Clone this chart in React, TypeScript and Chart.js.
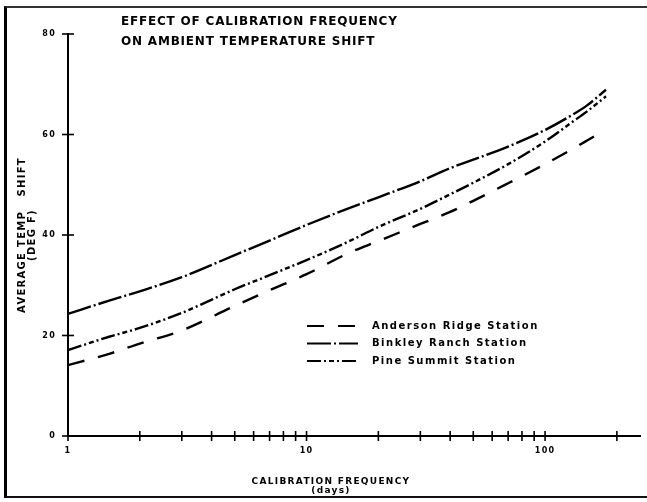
import React, { useEffect, useRef } from "react";
import { Chart, registerables } from "chart.js";

Chart.register(...registerables);

const DAYS = [1, 1.5, 2, 3, 5, 7, 10, 15, 20, 30, 40, 50, 70, 100, 130, 150, 180];
const ANDERSON = [14.1, 16.4, 18.4, 21.0, 25.9, 29.0, 32.2, 36.4, 38.8, 42.2, 44.6, 46.8, 50.3, 54.1, 57.1, 58.8, 61.0];
const BINKLEY = [24.3, 27.0, 28.8, 31.6, 36.0, 38.9, 42.0, 45.3, 47.5, 50.7, 53.3, 55.0, 57.6, 60.9, 63.9, 65.8, 68.9];
const PINE = [17.1, 19.8, 21.5, 24.5, 29.2, 32.0, 35.0, 38.7, 41.6, 45.2, 48.1, 50.4, 54.1, 58.6, 62.5, 64.6, 67.6];

const SERIES_NAMES = ["Anderson Ridge Station", "Binkley Ranch Station", "Pine Summit Station"];
const SERIES_DASH = [
  [17, 14],
  [24, 3, 2, 3],
  [14, 3, 2, 3, 5, 3, 2, 3],
];

const TITLE_LINES = ["EFFECT OF CALIBRATION FREQUENCY", "ON AMBIENT TEMPERATURE SHIFT"];
const X_TITLE = ["CALIBRATION FREQUENCY", "(days)"];
const Y_TITLE = ["AVERAGE TEMP   SHIFT", "(DEG F)"];
const X_TICKS = [1, 2, 3, 4, 5, 6, 7, 8, 9, 10, 20, 30, 40, 50, 60, 70, 80, 90, 100, 200];
const X_LABELED = [1, 10, 100];
const Y_TICKS = [0, 20, 40, 60, 80];

const FONT = '"DejaVu Sans"';

const decor = {
  id: "decor",
  beforeDraw(chart: any) {
    chart.ctx.letterSpacing = "1.3px";
  },
  afterDraw(chart: any) {
    const ctx = chart.ctx;
    const xs = chart.scales.x;
    const ys = chart.scales.y;
    ctx.save();
    ctx.strokeStyle = "#000";
    ctx.lineWidth = 1.6;
    ctx.setLineDash([]);
    const y0 = ys.getPixelForValue(0);
    X_TICKS.forEach((v) => {
      const px = xs.getPixelForValue(v);
      ctx.beginPath();
      ctx.moveTo(px, y0 - 5);
      ctx.lineTo(px, y0 + 5);
      ctx.stroke();
    });
    const x0 = xs.getPixelForValue(1);
    Y_TICKS.forEach((v) => {
      const py = ys.getPixelForValue(v);
      ctx.beginPath();
      ctx.moveTo(x0 - 6, py);
      ctx.lineTo(x0 + 6, py);
      ctx.stroke();
    });

    ctx.fillStyle = "#000";
    ctx.textBaseline = "middle";
    // title
    ctx.font = `bold 12px ${FONT}`;
    ctx.letterSpacing = "0.8px";
    ctx.textAlign = "left";
    ctx.fillText(TITLE_LINES[0], 121, 22);
    ctx.fillText(TITLE_LINES[1], 121, 42);

    // x axis title
    ctx.font = `bold 9px ${FONT}`;
    ctx.letterSpacing = "1.3px";
    ctx.textAlign = "center";
    ctx.fillText(X_TITLE[0], 331, 482);
    ctx.fillText(X_TITLE[1], 331, 491);

    // legend
    ctx.font = `bold 10px ${FONT}`;
    ctx.letterSpacing = "1.5px";
    ctx.textAlign = "left";
    const rows = [326, 343.5, 361];
    chart.data.datasets.forEach((ds: any, i: number) => {
      const ry = rows[i];
      ctx.save();
      ctx.lineWidth = 2.2;
      ctx.setLineDash(ds.borderDash || []);
      ctx.beginPath();
      ctx.moveTo(307, ry);
      ctx.lineTo(358, ry);
      ctx.stroke();
      ctx.restore();
      ctx.fillText(ds.label, 372, ry);
    });
    ctx.restore();
    chart.ctx.letterSpacing = "0px";
  },
};

export default function App() {
  const ref = useRef<HTMLCanvasElement | null>(null);

  useEffect(() => {
    document.body.style.margin = "0";
    const canvas = ref.current;
    if (!canvas) return;
    const seriesValues = [ANDERSON, BINKLEY, PINE];
    const chart = new Chart(canvas, {
      type: "line",
      data: {
        datasets: seriesValues.map((vals, i) => ({
          label: SERIES_NAMES[i],
          data: DAYS.map((d, j) => ({ x: d, y: vals[j] })),
          borderColor: "#000",
          borderWidth: 2.4,
          borderDash: SERIES_DASH[i],
          pointRadius: 0,
          fill: false,
          cubicInterpolationMode: "monotone",
          clip: false,
        })),
      },
      options: {
        animation: false,
        responsive: false,
        devicePixelRatio: 1,
        layout: { padding: { left: 0, top: 34, right: 7, bottom: 0 } },
        plugins: {
          legend: { display: false },
          title: { display: false },
          tooltip: { enabled: false },
        },
        scales: {
          x: {
            type: "logarithmic",
            min: 1,
            max: 250,
            grid: { display: false, drawTicks: false },
            border: { display: true, color: "#000", width: 2 },
            afterBuildTicks: (scale: any) => {
              scale.ticks = X_TICKS.map((v) => ({ value: v, major: X_LABELED.includes(v) }));
            },
            afterFit: (scale: any) => {
              scale.height = 66;
            },
            ticks: {
              autoSkip: false,
              maxRotation: 0,
              minRotation: 0,
              padding: 10,
              color: "#000",
              font: { family: FONT, size: 8, weight: "bold" },
              callback: (v: any) => (X_LABELED.includes(Number(v)) ? String(v) : ""),
            },
          },
          y: {
            type: "linear",
            min: 0,
            max: 80,
            grid: { display: false, drawTicks: false },
            border: { display: true, color: "#000", width: 2 },
            afterBuildTicks: (scale: any) => {
              scale.ticks = Y_TICKS.map((v) => ({ value: v }));
            },
            afterFit: (scale: any) => {
              scale.width = 68;
            },
            ticks: {
              padding: 12,
              color: "#000",
              font: { family: FONT, size: 8, weight: "bold" },
            },
            title: {
              display: true,
              text: Y_TITLE,
              color: "#000",
              font: { family: FONT, size: 10, weight: "bold", lineHeight: 1.0 },
              padding: { top: 17, bottom: 0 },
            },
          },
        },
      },
      plugins: [decor],
    } as any);
    return () => chart.destroy();
  }, []);

  return (
    <div style={{ position: "relative", width: 647, height: 502, background: "#fff" }}>
      <canvas ref={ref} width={647} height={502} style={{ display: "block", width: 647, height: 502 }} />
      <div
        style={{
          position: "absolute",
          left: 4,
          top: 6,
          width: 643,
          height: 492,
          borderLeft: "3px solid #000",
          borderTop: "2px solid #333",
          borderBottom: "2px solid #111",
          pointerEvents: "none",
          boxSizing: "border-box",
        }}
      />
    </div>
  );
}
